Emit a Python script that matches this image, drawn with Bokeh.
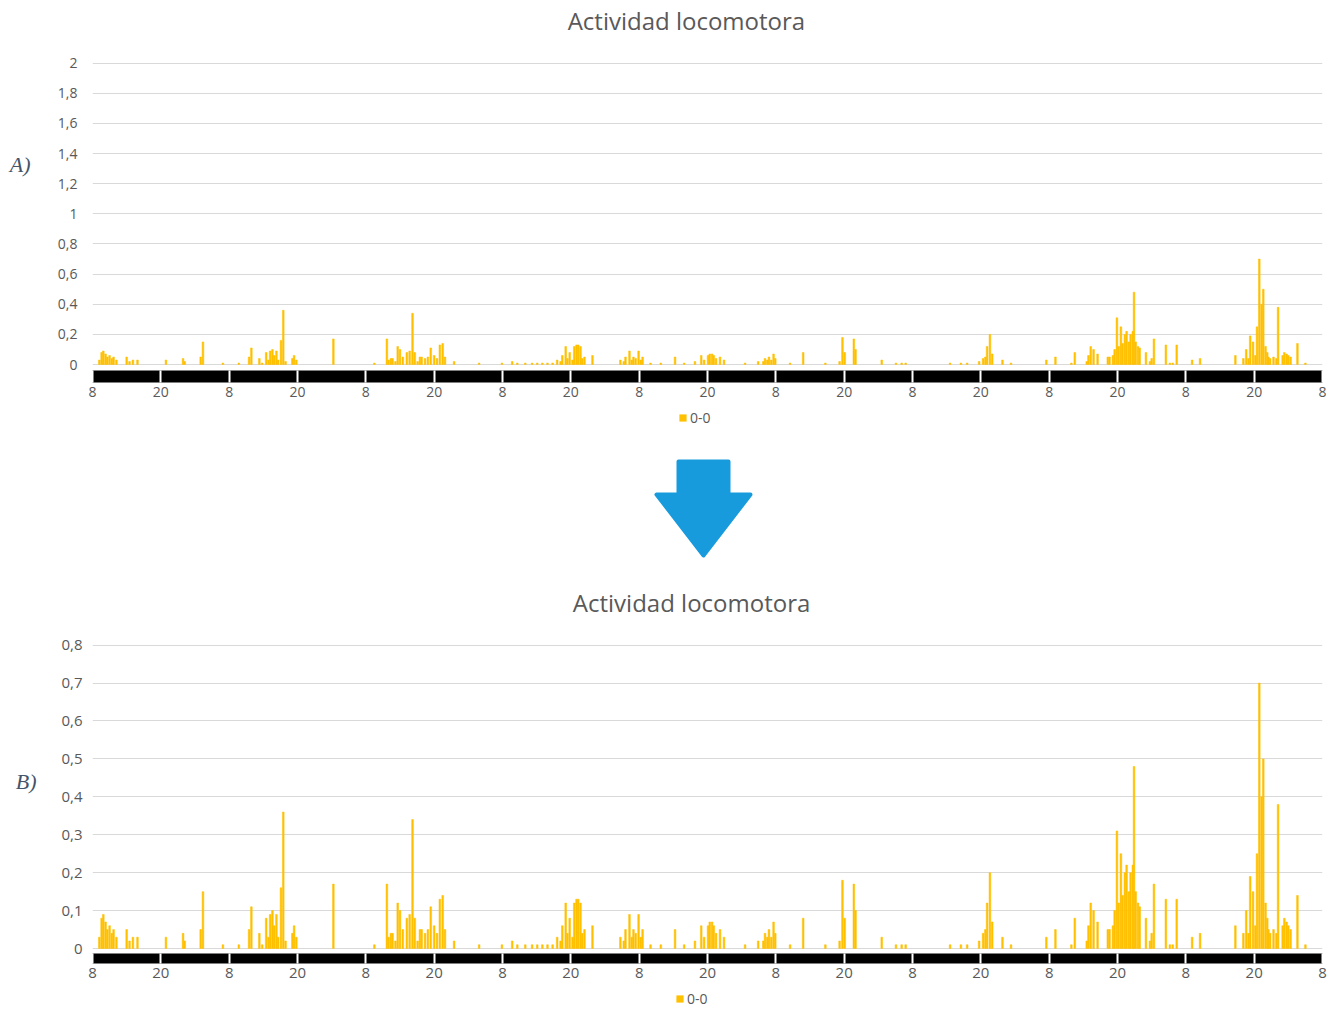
from bokeh.plotting import figure
from bokeh.models import (Range1d, FixedTicker, Legend, LegendItem, ColumnDataSource,
                          LinearAxis)
from bokeh.layouts import column
from bokeh.embed import file_html
from bokeh.resources import INLINE

# ---------------- data ----------------
titulo = "Actividad locomotora"
serie = "0-0"

# time in hours since the first 8:00 mark (9 days = 216 h)
horas = [
    1.2, 1.6, 1.9, 2.3, 2.6, 3.0, 3.4, 3.7, 4.2, 6.0, 6.5, 7.1, 7.9,
    12.9, 15.9, 16.2, 19.0, 19.4, 22.9,
    25.7, 27.5, 27.9, 29.3, 29.8, 30.5, 30.9, 31.2, 31.6, 31.9, 32.3, 32.6, 33.1, 33.5, 33.9, 35.1, 35.4, 35.8,
    42.3, 49.5,
    51.7, 52.0, 52.4, 52.7, 53.2, 53.6, 54.0, 54.5, 55.2, 55.7, 56.2, 56.6, 57.1, 57.5, 57.8, 58.4, 58.9, 59.4, 60.0, 60.5, 61.0, 61.5, 61.9,
    63.5, 67.9, 71.9,
    73.7, 74.6, 76.0, 77.2, 78.1, 79.0, 79.9, 80.8,
    81.6, 82.2, 82.5, 83.1, 83.4, 83.8, 84.3, 84.6, 85.0, 85.3, 85.7, 86.0, 86.4, 87.8,
    92.7, 93.3, 93.6, 94.3, 94.7, 95.0, 95.4, 95.9, 96.3, 96.6,
    98.0, 99.8, 102.3, 103.9, 105.8,
    106.9, 107.4, 108.1, 108.4, 108.8, 109.1, 109.5, 110.2, 110.9,
    114.6, 116.9, 117.8, 118.1, 118.5, 118.8, 119.2, 119.6, 119.9,
    122.5, 124.8, 128.7,
    131.2, 131.7, 132.1, 133.7, 134.0,
    138.6, 141.1, 142.1, 142.8,
    150.6, 152.5, 153.6, 155.7, 156.4, 156.8, 157.1, 157.6, 158.0, 159.8, 161.3,
    167.5, 169.1, 171.9, 172.5, 174.6, 174.9, 175.3, 175.8, 176.5,
    178.3, 178.6, 179.2, 179.5, 179.9, 180.2, 180.6, 180.9, 181.3, 181.6, 182.0, 182.3, 182.7, 182.9, 183.2, 183.6, 183.9,
    185.0, 185.7, 186.0, 186.4, 188.5, 189.2, 189.7, 190.4, 193.1, 194.5,
    200.7, 202.1, 202.6, 203.0, 203.3, 203.8, 204.2, 204.5, 204.9, 205.3, 205.6, 206.0, 206.3, 206.5, 206.8,
    207.4, 207.9, 208.2, 209.0, 209.3, 209.7, 210.0, 210.4, 211.6, 213.0,
]

actividad = [
    0.03, 0.08, 0.09, 0.07, 0.05, 0.06, 0.04, 0.05, 0.03, 0.05, 0.02, 0.03, 0.03,
    0.03, 0.04, 0.02, 0.05, 0.15, 0.01,
    0.01, 0.05, 0.11, 0.04, 0.01, 0.08, 0.03, 0.09, 0.10, 0.06, 0.09, 0.03, 0.16, 0.36, 0.02, 0.04, 0.06, 0.03,
    0.17, 0.01,
    0.17, 0.03, 0.04, 0.04, 0.02, 0.12, 0.10, 0.05, 0.08, 0.09, 0.34, 0.08, 0.02, 0.05, 0.05, 0.04, 0.05, 0.11, 0.06, 0.04, 0.13, 0.14, 0.05,
    0.02, 0.01, 0.01,
    0.02, 0.01, 0.01, 0.01, 0.01, 0.01, 0.01, 0.01,
    0.03, 0.02, 0.06, 0.12, 0.04, 0.08, 0.03, 0.12, 0.13, 0.13, 0.12, 0.04, 0.05, 0.06,
    0.03, 0.02, 0.05, 0.09, 0.03, 0.05, 0.04, 0.09, 0.03, 0.05,
    0.01, 0.01, 0.05, 0.01, 0.02,
    0.06, 0.03, 0.06, 0.07, 0.07, 0.06, 0.04, 0.05, 0.03,
    0.01, 0.02, 0.02, 0.04, 0.03, 0.05, 0.03, 0.07, 0.04,
    0.01, 0.08, 0.01,
    0.02, 0.18, 0.08, 0.17, 0.10,
    0.03, 0.01, 0.01, 0.01,
    0.01, 0.01, 0.01, 0.02, 0.04, 0.05, 0.12, 0.20, 0.07, 0.03, 0.01,
    0.03, 0.05, 0.01, 0.08, 0.02, 0.06, 0.12, 0.10, 0.07,
    0.05, 0.05, 0.06, 0.10, 0.31, 0.12, 0.25, 0.14, 0.20, 0.22, 0.15, 0.20, 0.22, 0.48, 0.15, 0.12, 0.11,
    0.08, 0.02, 0.04, 0.17, 0.13, 0.01, 0.01, 0.13, 0.03, 0.04,
    0.06, 0.04, 0.10, 0.04, 0.19, 0.15, 0.06, 0.25, 0.70, 0.40, 0.50, 0.12, 0.08, 0.05, 0.04,
    0.05, 0.04, 0.38, 0.06, 0.08, 0.07, 0.06, 0.05, 0.14, 0.01,
]
assert len(horas) == len(actividad), (len(horas), len(actividad))

ticks_x = [0, 12, 24, 36, 48, 60, 72, 84, 96, 108, 120, 132, 144, 156, 168, 180, 192, 204, 216]
etiquetas_x = ["8", "20", "8", "20", "8", "20", "8", "20", "8", "20",
               "8", "20", "8", "20", "8", "20", "8", "20", "8"]

ticks_y_A = [0, 0.2, 0.4, 0.6, 0.8, 1.0, 1.2, 1.4, 1.6, 1.8, 2.0]
etiquetas_y_A = ["0", "0,2", "0,4", "0,6", "0,8", "1", "1,2", "1,4", "1,6", "1,8", "2"]
ticks_y_B = [0, 0.1, 0.2, 0.3, 0.4, 0.5, 0.6, 0.7, 0.8]
etiquetas_y_B = ["0", "0,1", "0,2", "0,3", "0,4", "0,5", "0,6", "0,7", "0,8"]

# ---------------- style / layout ----------------
GOLD = "#FFC000"
GREY = "#595959"
GRID = "#D9D9D9"
FONT = "Open Sans"
ARROW = "#179BDC"
LABEL_COLOR = "#44546A"

W = 1330          # common width of every block
BL, BR = 92, 8    # common left / right borders (frame = x 92 .. 1322)
X0, X1 = 0, 216


def chart(ymax, yticks, ylabels, frame_h, b_top, b_bottom, zero_px, rule_px, font_px,
          title_x, title_standoff, y_standoff, tag, tag_y, tag_standoff):
    ystart = -zero_px * ymax / (frame_h - zero_px)
    yend = ymax + (ymax - ystart) / frame_h * 0.6
    p = figure(width=W, height=b_top + frame_h + b_bottom,
               x_range=Range1d(X0, X1), y_range=Range1d(ystart, yend),
               output_backend="svg", toolbar_location=None,
               min_border_left=BL, min_border_right=BR,
               min_border_top=b_top, min_border_bottom=b_bottom)
    p.outline_line_color = None

    src = ColumnDataSource(dict(horas=horas, actividad=actividad))
    p.vbar(x="horas", top="actividad", bottom=0, width=0.3, source=src,
           fill_color=GOLD, line_color=GOLD, line_width=0.5)

    # x axis: black light/dark band with white separators
    xa = p.xaxis[0]
    xa.ticker = FixedTicker(ticks=ticks_x)
    xa.major_label_overrides = {t: l for t, l in zip(ticks_x, etiquetas_x)}
    xa.axis_line_color = "black"
    xa.axis_line_width = rule_px
    xa.major_tick_line_color = "white"
    xa.major_tick_line_width = 2
    xa.major_tick_in = rule_px // 2
    xa.major_tick_out = rule_px // 2
    xa.minor_tick_line_color = None
    xa.major_label_standoff = 4
    xa.major_label_text_font = FONT
    xa.major_label_text_font_size = f"{font_px}px"
    xa.major_label_text_color = GREY

    ya = p.yaxis[0]
    ya.ticker = FixedTicker(ticks=yticks)
    ya.major_label_overrides = {t: l for t, l in zip(yticks, ylabels)}
    ya.axis_line_color = None
    ya.major_tick_line_color = None
    ya.minor_tick_line_color = None
    ya.major_tick_out = 0
    ya.major_tick_in = 0
    ya.major_label_standoff = y_standoff
    ya.major_label_text_font = FONT
    ya.major_label_text_font_size = f"{font_px}px"
    ya.major_label_text_color = GREY

    # chart title, set above the frame
    ta = LinearAxis(ticker=FixedTicker(ticks=[title_x]),
                    major_label_overrides={title_x: titulo},
                    axis_line_color=None, major_tick_line_color=None,
                    minor_tick_line_color=None, major_tick_in=0, major_tick_out=0,
                    major_label_standoff=title_standoff,
                    major_label_text_font=FONT, major_label_text_font_size="24px",
                    major_label_text_color=GREY)
    p.add_layout(ta, "above")

    # panel tag "A)" / "B)" to the left of the value axis
    ga = LinearAxis(ticker=FixedTicker(ticks=[tag_y]),
                    major_label_overrides={tag_y: tag},
                    axis_line_color=None, major_tick_line_color=None,
                    minor_tick_line_color=None, major_tick_in=0, major_tick_out=0,
                    major_label_standoff=tag_standoff,
                    major_label_text_font="Liberation Serif",
                    major_label_text_font_style="italic",
                    major_label_text_font_size="22px",
                    major_label_text_color=LABEL_COLOR)
    p.add_layout(ga, "left")

    p.xgrid.visible = False
    p.ygrid.grid_line_color = GRID
    p.ygrid.grid_line_width = 1
    return p


def legend_strip(height, font_px, left_px):
    q = figure(width=W, height=height, x_range=Range1d(0, 1), y_range=Range1d(0, 1),
               output_backend="svg", toolbar_location=None,
               min_border_left=BL, min_border_right=BR,
               min_border_top=0, min_border_bottom=0,
               x_axis_location=None, y_axis_location=None)
    q.outline_line_color = None
    q.grid.visible = False
    # zero-height swatch carrier: only its legend entry is visible
    sw = q.vbar(x=[0.5], top=[0], bottom=[0], width=0.3,
                fill_color=GOLD, line_color=None)
    q.add_layout(Legend(items=[LegendItem(label=serie, renderers=[sw])],
                        orientation="horizontal", location=(left_px, (height - 14) // 2),
                        border_line_color=None, background_fill_alpha=0,
                        glyph_width=9, glyph_height=9, label_standoff=3,
                        label_text_font=FONT, label_text_font_size=f"{font_px}px",
                        label_text_color=GREY, padding=0, margin=0, spacing=0,
                        label_height=14))
    return q


# Chart A (scale 0-2): y 0 .. 408
pA = chart(2.0, ticks_y_A, etiquetas_y_A, frame_h=314, b_top=62, b_bottom=32,
           zero_px=12, rule_px=12, font_px=14, title_x=104.3, title_standoff=26,
           y_standoff=15, tag="A)", tag_y=1.33, tag_standoff=24)
legA = legend_strip(24, 14, 586)

# Arrow between the charts: y 432 .. 574 (coordinates in page pixels)
ARR_TOP, ARR_H = 432, 142
arr = figure(width=W, height=ARR_H, x_range=Range1d(BL, W - BR),
             y_range=Range1d(-(ARR_TOP + ARR_H), -ARR_TOP),
             output_backend="svg", toolbar_location=None,
             min_border_left=BL, min_border_right=BR, min_border_top=0, min_border_bottom=0,
             x_axis_location=None, y_axis_location=None)
arr.outline_line_color = None
arr.grid.visible = False
arrow_x = [678, 728, 728, 750, 703, 656, 678]
arrow_y = [461, 461, 494, 494, 555, 494, 494]
arr.patch(x=arrow_x, y=[-v for v in arrow_y],
          fill_color=ARROW, line_color=ARROW, line_width=4, line_join="round")

# Chart B (scale 0-0.8): y 574 .. 990
pB = chart(0.8, ticks_y_B, etiquetas_y_B, frame_h=314, b_top=70, b_bottom=32,
           zero_px=10, rule_px=10, font_px=15, title_x=105.2, title_standoff=26,
           y_standoff=10, tag="B)", tag_y=0.44, tag_standoff=22)
legB = legend_strip(22, 14, 583)

layout = column(pA, legA, arr, pB, legB)

with open("out.html", "w") as f:
    f.write(file_html(layout, INLINE))
